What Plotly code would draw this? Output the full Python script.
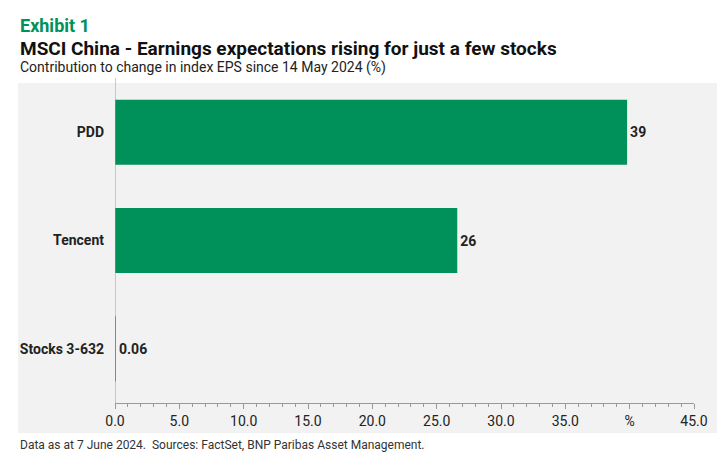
import plotly.graph_objects as go

# data
stocks = ["Stocks 3-632", "Tencent", "PDD"]
contrib = [0.06, 26.6, 39.8]
labels = ["0.06", "26", "39"]
colors = ["#5a7d93", "#00915a", "#00915a"]

tick_vals = [0, 5, 10, 15, 20, 25, 30, 35, 40, 45]
tick_text = ["0.0", "5.0", "10.0", "15.0", "20.0", "25.0", "30.0", "35.0", "%", "45.0"]

font = "Liberation Sans Narrow, Roboto, Arial"
left = -97 / 579  # paper x of the left text edge

fig = go.Figure()
fig.add_trace(go.Bar(
    y=stocks, x=contrib, orientation="h",
    marker=dict(color=colors, line=dict(width=0)),
    text=["<b>" + t + "</b>" for t in labels], textposition="outside", cliponaxis=False,
    textfont=dict(size=14, color="#222", family=font),
    width=0.6,
))

fig.add_shape(type="rect", xref="paper", yref="paper",
              x0=(10 - 107) / 579, x1=(720 - 107) / 579,
              y0=-0.092, y1=0.985, fillcolor="#f2f2f2",
              line=dict(width=0), layer="below")

fig.add_annotation(text="<b>Exhibit 1</b>", xref="paper", yref="paper",
                   x=left, y=1.163, xanchor="left", yanchor="middle",
                   showarrow=False, font=dict(size=18, color="#00915a", family=font))
fig.add_annotation(text="<b>MSCI China - Earnings expectations rising for just a few stocks</b>",
                   xref="paper", yref="paper",
                   x=left, y=1.092, xanchor="left", yanchor="middle",
                   showarrow=False, font=dict(size=19, color="#111", family=font))
fig.add_annotation(text="Contribution to change in index EPS since 14 May 2024 (%)",
                   xref="paper", yref="paper",
                   x=left, y=1.031, xanchor="left", yanchor="middle",
                   showarrow=False, font=dict(size=14, color="#222", family=font))
fig.add_annotation(text="Data as at 7 June 2024.  Sources: FactSet, BNP Paribas Asset Management.",
                   xref="paper", yref="paper",
                   x=left, y=-0.129, xanchor="left", yanchor="middle",
                   showarrow=False, font=dict(size=12, color="#333", family=font))

fig.update_layout(
    width=725, height=460,
    margin=dict(l=107, r=39, t=70, b=65),
    paper_bgcolor="white", plot_bgcolor="rgba(0,0,0,0)",
    showlegend=False, bargap=0.4,
    font=dict(family=font, size=14, color="#222"),
    xaxis=dict(range=[0, 45], tickvals=tick_vals, ticktext=tick_text,
               showgrid=False, zeroline=False, showline=True, linecolor="#999",
               ticks="outside", ticklen=5, tickcolor="#999", automargin=False,
               minor=dict(dtick=1, ticks="outside", ticklen=3, tickcolor="#999"),
               tickfont=dict(size=14, color="#222")),
    yaxis=dict(showgrid=False, zeroline=False, showline=False, automargin=False,
               ticks="", ticklabelstandoff=10,
               tickvals=stocks, ticktext=["<b>" + s + "</b>" for s in stocks],
               tickfont=dict(size=14, color="#222")),
)
fig.add_shape(type="line", xref="x", yref="paper", x0=0, x1=0, y0=0, y1=1,
              line=dict(color="#999", width=1))

fig.write_html("out.html")
